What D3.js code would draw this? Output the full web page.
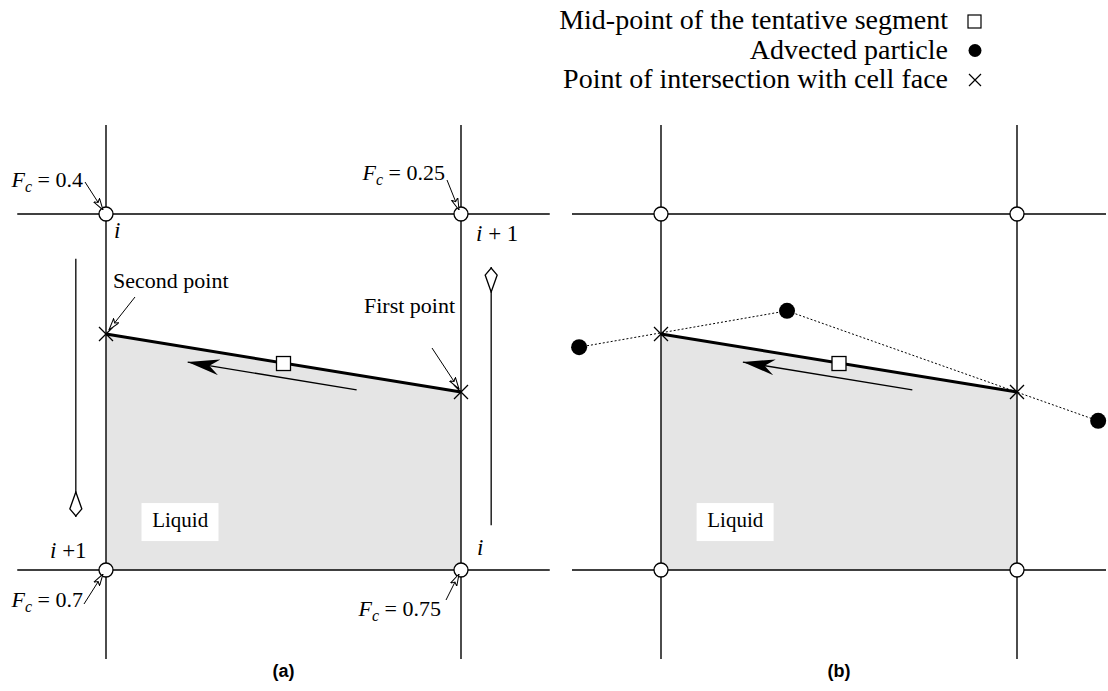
<!DOCTYPE html>
<html>
<head>
<meta charset="utf-8">
<script src="https://cdn.jsdelivr.net/npm/d3@7"></script>
<style>
  body { margin: 0; background: #fff; }
  text { font-family: "Liberation Serif", "Times New Roman", serif; }
</style>
</head>
<body>
<svg id="fig" width="1108" height="691"></svg>
<script>
// cell coordinates: 0..1 is one cell, y up
const panels = ["(a)", "(b)"];
const gridLines = [0, 1];
const lineExtent = [-0.25, 1.25];
const interfaceLeft = [0, 0.663];
const interfaceRight = [1, 0.5];
const midPoint = [0.5, 0.58];
const flowArrow = [[0.706, 0.506], [0.23, 0.584]];
const particles = [[-0.23, 0.626], [0.354, 0.728], [1.228, 0.419]];
const sweepArrows = [[[-0.085, 0.874], [-0.085, 0.149]], [[1.085, 0.126], [1.085, 0.851]]];
const fcValues = ["0.4", "0.25", "0.7", "0.75"];
const legendItems = ["Mid-point of the tentative segment", "Advected particle", "Point of intersection with cell face"];

const svg = d3.select("#fig");
const defs = svg.append("defs");

// thin open arrowhead for leaders
defs.append("marker").attr("id", "open").attr("viewBox", "0 0 12 8")
  .attr("refX", 12).attr("refY", 4).attr("markerWidth", 12).attr("markerHeight", 8)
  .attr("markerUnits", "userSpaceOnUse").attr("orient", "auto")
  .append("path").attr("d", "M0,0.5 L12,4 L0,7.5 L3,4 Z")
  .attr("fill", "#fff").attr("stroke", "#000").attr("stroke-width", 1);
defs.append("marker").attr("id", "solid").attr("viewBox", "0 0 32 16")
  .attr("refX", 32).attr("refY", 8).attr("markerWidth", 32).attr("markerHeight", 16)
  .attr("markerUnits", "userSpaceOnUse").attr("orient", "auto")
  .append("path").attr("d", "M0,0 L32,8 L0,16 L10,8 Z").attr("fill", "#000");
defs.append("marker").attr("id", "diamond").attr("viewBox", "0 0 26 14")
  .attr("refX", 26).attr("refY", 7).attr("markerWidth", 26).attr("markerHeight", 14)
  .attr("markerUnits", "userSpaceOnUse").attr("orient", "auto")
  .append("path").attr("d", "M1,7 L18,1 L25,7 L18,13 Z")
  .attr("fill", "#fff").attr("stroke", "#000").attr("stroke-width", 1.3);

const y = d3.scaleLinear().domain([0, 1]).range([570, 214]);
const xScales = [
  d3.scaleLinear().domain([0, 1]).range([106, 461]),
  d3.scaleLinear().domain([0, 1]).range([661, 1017])
];

function fcText(g, x, yy, value, anchor) {
  const t = g.append("text").attr("x", x).attr("y", yy).attr("font-size", 22)
    .attr("text-anchor", anchor || "start").attr("xml:space", "preserve");
  t.append("tspan").attr("font-style", "italic").text("F");
  t.append("tspan").attr("font-style", "italic").attr("font-size", 16).attr("dy", 5).text("c");
  t.append("tspan").attr("dy", -5).text(" = " + value);
}

panels.forEach((name, p) => {
  const x = xScales[p];
  const g = svg.append("g");
  const pt = d => [x(d[0]), y(d[1])];

  // liquid region
  g.append("path")
    .attr("d", d3.line()([pt(interfaceLeft), pt(interfaceRight), pt([1, 0]), pt([0, 0])]) + "Z")
    .attr("fill", "#e5e5e5");

  // grid lines
  gridLines.forEach(v => {
    g.append("line").attr("x1", x(lineExtent[0])).attr("x2", x(lineExtent[1]))
      .attr("y1", y(v)).attr("y2", y(v)).attr("stroke", "#000").attr("stroke-width", 1.4);
    g.append("line").attr("x1", x(v)).attr("x2", x(v))
      .attr("y1", y(lineExtent[0])).attr("y2", y(lineExtent[1])).attr("stroke", "#000").attr("stroke-width", 1.4);
  });

  // liquid label
  g.append("rect").attr("x", x(0.1)).attr("y", y(0.188)).attr("width", 77).attr("height", 38).attr("fill", "#fff");
  g.append("text").attr("x", x(0.13)).attr("y", y(0.12)).attr("font-size", 21).text("Liquid");

  // interface segment
  g.append("line").attr("x1", pt(interfaceLeft)[0]).attr("y1", pt(interfaceLeft)[1])
    .attr("x2", pt(interfaceRight)[0]).attr("y2", pt(interfaceRight)[1])
    .attr("stroke", "#000").attr("stroke-width", 3);

  // flow arrow
  g.append("line").attr("x1", pt(flowArrow[0])[0]).attr("y1", pt(flowArrow[0])[1])
    .attr("x2", pt(flowArrow[1])[0]).attr("y2", pt(flowArrow[1])[1])
    .attr("stroke", "#000").attr("stroke-width", 1.3).attr("marker-end", "url(#solid)");

  // midpoint square
  g.append("rect").attr("x", pt(midPoint)[0] - 7).attr("y", pt(midPoint)[1] - 7)
    .attr("width", 14).attr("height", 14).attr("fill", "#fff").attr("stroke", "#000").attr("stroke-width", 1.3);

  // corner circles
  gridLines.forEach(a => gridLines.forEach(b => {
    g.append("circle").attr("cx", x(a)).attr("cy", y(b)).attr("r", 7)
      .attr("fill", "#fff").attr("stroke", "#000").attr("stroke-width", 1.3);
  }));

  if (p === 1) {
    g.append("path").attr("d", d3.line()(particles.map(pt)))
      .attr("fill", "none").attr("stroke", "#000").attr("stroke-width", 1).attr("stroke-dasharray", "2,2");
    particles.forEach(d => g.append("circle").attr("cx", pt(d)[0]).attr("cy", pt(d)[1]).attr("r", 8).attr("fill", "#000"));
  }

  // intersection crosses
  [interfaceLeft, interfaceRight].forEach(d => {
    const [cx, cy] = pt(d);
    g.append("path").attr("d", `M${cx - 7},${cy - 7}L${cx + 7},${cy + 7}M${cx - 7},${cy + 7}L${cx + 7},${cy - 7}`)
      .attr("stroke", "#000").attr("stroke-width", 1.3);
  });

  if (p === 0) {
    sweepArrows.forEach(a => {
      g.append("line").attr("x1", pt(a[0])[0]).attr("y1", pt(a[0])[1])
        .attr("x2", pt(a[1])[0]).attr("y2", pt(a[1])[1])
        .attr("stroke", "#000").attr("stroke-width", 1.3).attr("marker-end", "url(#diamond)");
    });

    const leader = (x1, y1, x2, y2) => g.append("line").attr("x1", x1).attr("y1", y1).attr("x2", x2).attr("y2", y2)
      .attr("stroke", "#000").attr("stroke-width", 1).attr("marker-end", "url(#open)");

    // F_c labels at corners
    fcText(g, 83, 187, fcValues[0], "end");
    leader(85, 182, x(0) - 3, y(1) - 4);
    fcText(g, 445, 180, fcValues[1], "end");
    leader(447, 180, x(1) - 2, y(1) - 4);
    fcText(g, 83, 607, fcValues[2], "end");
    leader(84, 604, x(0) - 3, y(0) + 4);
    fcText(g, 441, 616, fcValues[3], "end");
    leader(446, 600, x(1) - 2, y(0) + 4);

    // index labels
    const idx = (tx, ty, s) => {
      const t = g.append("text").attr("x", tx).attr("y", ty).attr("font-size", 23).attr("xml:space", "preserve");
      t.append("tspan").attr("font-style", "italic").text("i");
      if (s) t.append("tspan").text(s);
    };
    idx(114, 238, "");
    idx(476, 241, " + 1");
    idx(50, 558, " +1");
    idx(477, 555, "");

    // point labels
    g.append("text").attr("x", 113).attr("y", 288).attr("font-size", 22).text("Second point");
    leader(135, 297, x(0) + 3, y(interfaceLeft[1]) - 4);
    g.append("text").attr("x", 364).attr("y", 313).attr("font-size", 22).text("First point");
    leader(432, 348, x(1) - 2, y(interfaceRight[1]) - 3);
  }

  g.append("text").attr("x", x(0.5)).attr("y", 677).attr("text-anchor", "middle")
    .attr("font-weight", "bold").attr("font-size", 18).text(name)
    .style("font-family", "'Liberation Sans', Arial, sans-serif");
});

// legend
const legend = svg.append("g");
const legendY = d3.scaleLinear().domain([0, 2]).range([21, 80]);
legendItems.forEach((label, i) => {
  legend.append("text").attr("x", 948).attr("y", legendY(i) + 8).attr("text-anchor", "end")
    .attr("font-size", 28).text(label);
});
legend.append("rect").attr("x", 968).attr("y", legendY(0) - 6).attr("width", 13).attr("height", 13)
  .attr("fill", "#fff").attr("stroke", "#000").attr("stroke-width", 1.2);
legend.append("circle").attr("cx", 975).attr("cy", legendY(1)).attr("r", 6.5).attr("fill", "#000");
legend.append("path").attr("d", `M969,${legendY(2) - 6}L981,${legendY(2) + 6}M969,${legendY(2) + 6}L981,${legendY(2) - 6}`)
  .attr("stroke", "#000").attr("stroke-width", 1.2);
</script>
</body>
</html>
